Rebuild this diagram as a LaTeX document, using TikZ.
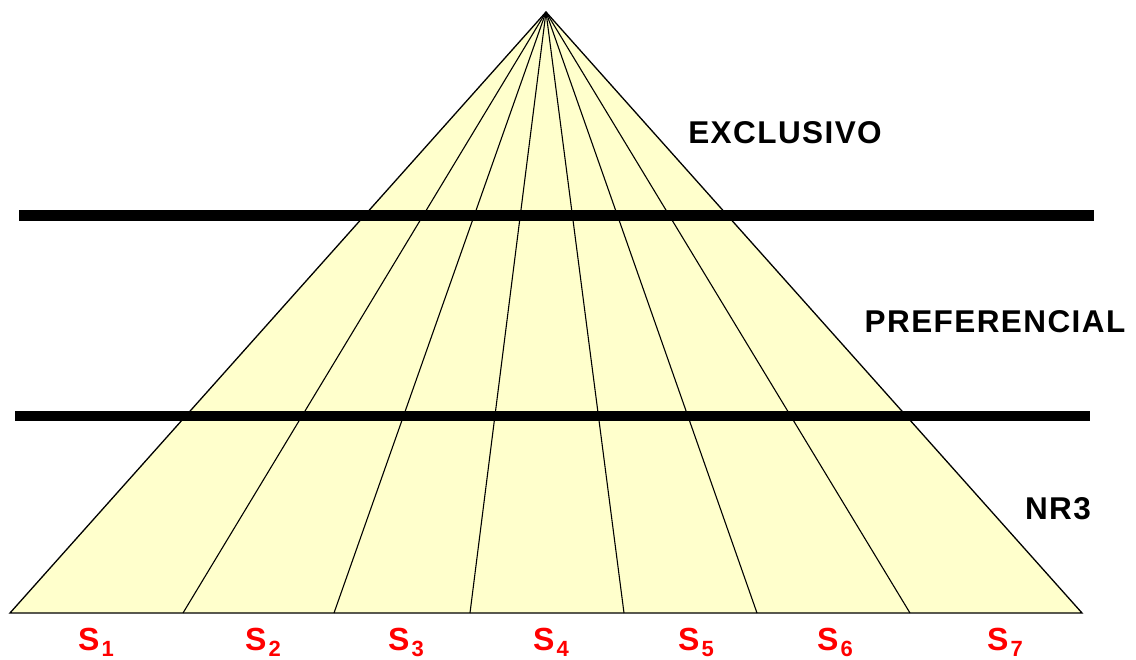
\documentclass[tikz,border=0pt]{standalone}
\usepackage{fontspec}
\setmainfont{Liberation Sans}
\newfontfamily\lblfont[LetterSpace=4.5]{Liberation Sans}
\definecolor{pyrfill}{HTML}{FFFFCC}
\definecolor{sred}{HTML}{FF0000}
\newcommand{\slab}[1]{S\hspace{2pt}\raisebox{-6pt}{\fontsize{22}{26}\selectfont #1}}
\tikzset{
  edge/.style={draw=black, line width=1.3pt},
  bar/.style={draw=black, line width=10.5pt},
  level/.style={font=\lblfont\bfseries\fontsize{31.5}{36}\selectfont, inner sep=0pt, anchor=base},
  seg/.style={font=\bfseries\fontsize{32}{36}\selectfont, text=sred, inner sep=0pt, anchor=base}
}
\begin{document}
\begin{tikzpicture}[x=1pt,y=-1pt]
\useasboundingbox (0,0) rectangle (1136,660);
\coordinate (apex) at (546,12);
\coordinate (b0) at (10,613);
\coordinate (b1) at (183,613);
\coordinate (b2) at (334,613);
\coordinate (b3) at (470,613);
\coordinate (b4) at (624,613);
\coordinate (b5) at (757,613);
\coordinate (b6) at (910,613);
\coordinate (b7) at (1082,613);
\fill[pyrfill] (apex) -- (b0) -- (b7) -- cycle;
\foreach \i in {1,...,6} { \draw[line width=1.1pt] (apex) -- (b\i); }
\draw[edge, line join=miter] (apex) -- (b0) -- (b7) -- cycle;
\coordinate (t1) at (19,215.5);
\coordinate (t2) at (1094,215.5);
\coordinate (u1) at (15,416);
\coordinate (u2) at (1090,416);
\draw[bar] (t1) -- (t2);
\draw[bar] (u1) -- (u2);
\node[level] (excl) at (785,144) {EXCLUSIVO};
\node[level] (pref) at (995,333) {PREFERENCIAL};
\node[level] (nr3) at (1058,519) {NR3};
\node[seg] (s1) at (96,650) {\slab{1}};
\node[seg] (s2) at (263,650) {\slab{2}};
\node[seg] (s3) at (406,650) {\slab{3}};
\node[seg] (s4) at (551,650) {\slab{4}};
\node[seg] (s5) at (696,650) {\slab{5}};
\node[seg] (s6) at (835,650) {\slab{6}};
\node[seg] (s7) at (1005,650) {\slab{7}};
\end{tikzpicture}
\end{document}
